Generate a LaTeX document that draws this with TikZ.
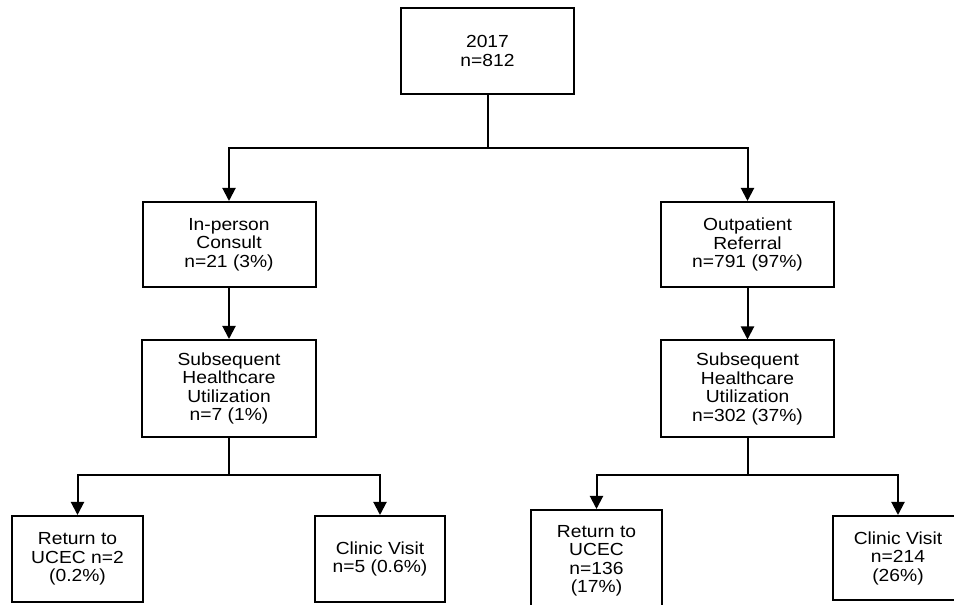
\documentclass[tikz,border=0pt]{standalone}
\usepackage{fontspec}
\setmainfont{Liberation Sans}[FakeStretch=1.1]
\usetikzlibrary{arrows.meta}
\begin{document}
\begin{tikzpicture}[x=1pt,y=1pt,
  box/.style={draw=black, line width=2pt, fill=white, align=center,
    font=\fontsize{17.5}{18.5}\selectfont, inner sep=0pt},
  conn/.style={line width=2pt, draw=black},
  arr/.style={line width=2pt, draw=black, -{Triangle[length=13pt,width=13pt]}}]
\useasboundingbox (0,0) rectangle (954,605);
\clip (0,0) rectangle (954,605);
\fill[white] (0,0) rectangle (954,605);
% boxes
\node[box, minimum width=173pt, minimum height=86pt] (top) at (487.5,554) {2017\\n=812};
\node[box, minimum width=173pt, minimum height=85pt] (l1) at (229,360.5) {In-person\\Consult\\n=21 (3\%)};
\node[box, minimum width=173pt, minimum height=85pt] (r1) at (747.5,360.5) {Outpatient\\Referral\\n=791 (97\%)};
\node[box, minimum width=174pt, minimum height=97pt] (l2) at (229,216.5) {Subsequent\\Healthcare\\Utilization\\n=7 (1\%)};
\node[box, minimum width=173pt, minimum height=97pt] (r2) at (747.5,216) {Subsequent\\Healthcare\\Utilization\\n=302 (37\%)};
\node[box, minimum width=131pt, minimum height=86pt] (ll) at (77.5,46) {Return to\\UCEC n=2\\(0.2\%)};
\node[box, minimum width=130pt, minimum height=86pt] (lr) at (380,46) {Clinic Visit\\n=5 (0.6\%)};
\node[box, minimum width=131pt, minimum height=102pt] (rl) at (596.5,44) {Return to\\UCEC\\n=136\\(17\%)};
\node[box, minimum width=130pt, minimum height=84pt] (rr) at (898,47) {Clinic Visit\\n=214\\(26\%)};
% junctions
\coordinate (j1) at (487.5,457);
\coordinate (j2) at (229,130);
\coordinate (j3) at (747.5,130);
% connectors
\draw[conn] (top.south) -- (j1);
\draw[arr] (j1) -| (l1.north);
\draw[arr] (j1) -| (r1.north);
\draw[arr] (l1.south) -- (l2.north);
\draw[arr] (r1.south) -- (r2.north);
\draw[conn] (l2.south) -- (j2);
\draw[arr] (j2) -| (ll.north);
\draw[arr] (j2) -| (lr.north);
\draw[conn] (r2.south) -- (j3);
\draw[arr] (j3) -| (rl.north);
\draw[arr] (j3) -| (rr.north);
\end{tikzpicture}
\end{document}
